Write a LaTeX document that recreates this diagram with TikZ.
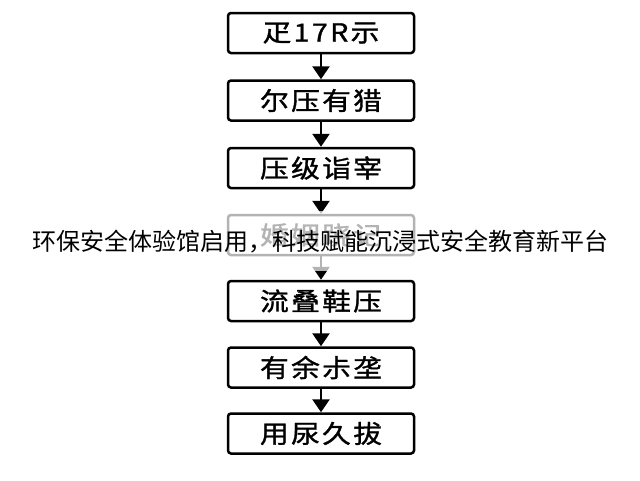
\documentclass[tikz,border=0pt]{standalone}
\usepackage{fontspec}
\usetikzlibrary{arrows.meta}
\newfontfamily\cjkbox[LetterSpace=8,FakeBold=1.2]{Noto Sans CJK SC}
\newfontfamily\cjktitle{Noto Sans CJK SC}
\begin{document}
\begin{tikzpicture}[x=1pt,y=-1pt,
  flowbox/.style={draw=black,line width=2.5pt,rounded corners=3pt,minimum width=186pt,minimum height=40pt,inner sep=0pt,fill=white},
  boxtext/.style={font=\cjkbox\fontsize{25}{27}\selectfont},
  flowarrow/.style={line width=2.6pt,-{Triangle[width=17pt,length=13pt]}}]
\useasboundingbox (0,0) rectangle (640,480);
\fill[white] (0,0) rectangle (640,480);
\newcommand{\bx}[1]{\scalebox{1.15}[1]{#1}}
\node[flowbox] (b1) at (321,33) {};
\node[boxtext] (t1) at (321,33) {\bx{疋17R示}};
\node[flowbox] (b2) at (321,100.5) {};
\node[boxtext] (t2) at (321,100.5) {\bx{尔压有猎}};
\node[flowbox] (b3) at (321,168) {};
\node[boxtext] (t3) at (321,168) {\bx{压级诣宰}};
\node[flowbox] (b4) at (321,235) {};
\node[boxtext] (t4) at (321,235) {\bx{婚姻跷记}};
\node[flowbox] (b5) at (321,301) {};
\node[boxtext] (t5) at (321,301) {\bx{流叠鞋压}};
\node[flowbox] (b6) at (321,367.5) {};
\node[boxtext] (t6) at (321,367.5) {\bx{有余尗垄}};
\node[flowbox] (b7) at (321,433.5) {};
\node[boxtext] (t7) at (321,433.5) {\bx{用尿久拔}};
\draw[flowarrow] (b1.south) -- (b2.north);
\draw[flowarrow] (b2.south) -- (b3.north);
\draw[flowarrow] (b3.south) -- (b4.north);
\draw[flowarrow] (b4.south) -- (b5.north);
\draw[flowarrow] (b5.south) -- (b6.north);
\draw[flowarrow] (b6.south) -- (b7.north);
\fill[white,opacity=0.7] (0,211) rectangle (640,271);
\node[font=\cjktitle\fontsize{24}{26}\selectfont,inner sep=0pt] (title) at (320.5,241.5) {环保安全体验馆启用，科技赋能沉浸式安全教育新平台};
\end{tikzpicture}
\end{document}
